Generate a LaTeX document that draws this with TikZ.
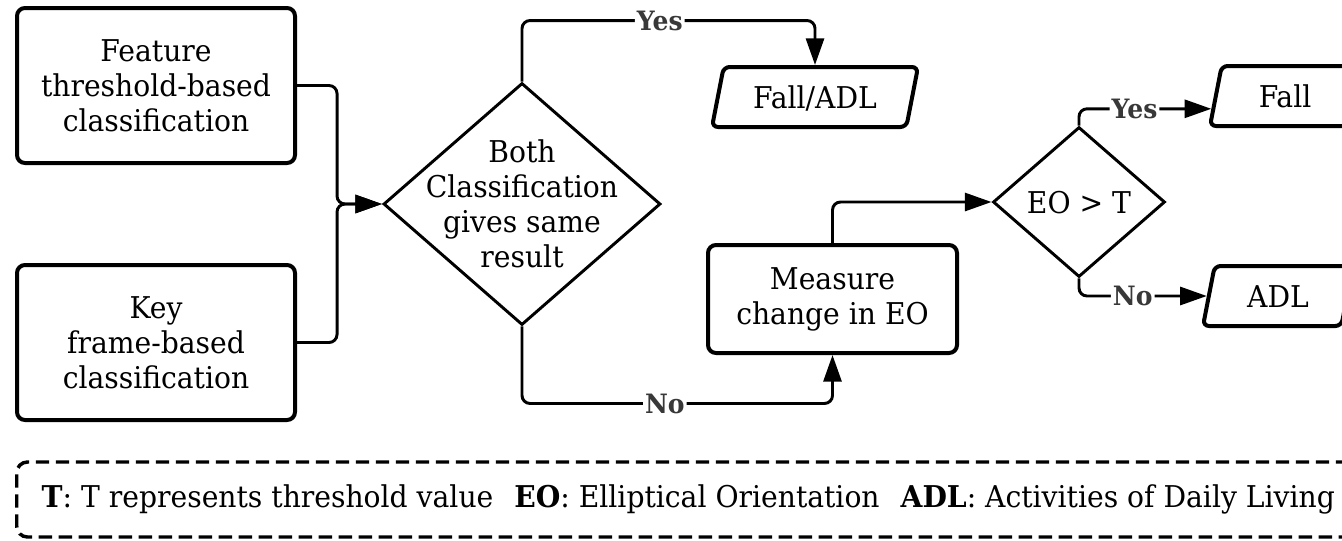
\documentclass[tikz,border=0pt]{standalone}
\usepackage{fontspec}
\setmainfont{DejaVu Serif}[FakeStretch=0.94]
\usetikzlibrary{shapes.geometric,arrows.meta,calc}
% centred multi-line text that takes no room, so the decision shapes keep their own size
\newcommand\flatlines[1]{\raisebox{-8.5pt}[0pt][0pt]{\makebox[0pt]{\begin{tabular}{@{}c@{}}#1\end{tabular}}}}
\begin{document}
\begin{tikzpicture}[x=0.75pt,y=-0.75pt,
  font=\fontsize{22.5}{26.25}\selectfont,
  procbox/.style={draw, line width=3pt, rounded corners=6pt, align=center, inner sep=0pt},
  decision/.style={draw, diamond, line width=2.2pt, inner sep=0pt},
  io/.style={draw, trapezium, trapezium left angle=79, trapezium right angle=101,
    trapezium stretches body, line width=3pt, rounded corners=4.5pt,
    inner xsep=0pt, inner ysep=11.25pt, text height=19.5pt, text depth=3pt},
  conn/.style={line width=2.2pt, rounded corners=6pt, -{Triangle[length=20pt,width=13.5pt]}},
  lbl/.style={fill=white, font=\bfseries\fontsize{20}{24}\selectfont, text=black!78, inner sep=1.5pt},
]
\useasboundingbox (0,0) rectangle (1342,540);
\clip (0,0) rectangle (1342,540);

% process boxes and decisions
\node[procbox, minimum width=208.5pt, minimum height=116.25pt] (feat) at (156,85.5)
  {Feature\\threshold-based\\classification};
\node[procbox, minimum width=208.5pt, minimum height=116.25pt] (key) at (156,342.5)
  {Key\\frame-based\\classification};
\node[decision, minimum width=207.75pt, minimum height=181.5pt] (both) at (522,204)
  {\flatlines{Both\\Classification\\gives same\\result}};
\node[io, minimum width=154.5pt] (either) at (815,97) {Fall/ADL};
\node[procbox, minimum width=186.75pt, minimum height=81pt] (measure) at (832.5,299)
  {Measure\\change in EO};
\node[decision, minimum width=129pt, minimum height=112.5pt] (eo) at (1079,202)
  {\flatlines{EO > T}};
\node[io, minimum width=112.5pt] (fall) at (1285,96) {Fall};
\node[io, minimum width=112.5pt] (adl) at (1278,296) {ADL};

% legend
\node[draw, dash pattern=on 10pt off 5pt, line width=2.6pt, rounded corners=8pt,
  anchor=west, minimum height=56.25pt, inner xsep=18.75pt] (legend) at (15,499.5)
  {\textbf{T}: T represents threshold value\hspace{0.7em}\textbf{EO}: Elliptical Orientation\hspace{0.7em}\textbf{ADL}: Activities of Daily Living};

% connectors
\coordinate (merge) at ($(both.west)+(-45,0)$);
\draw[conn] (feat.east) -| (merge) -- (both.west);
\draw[conn] (key.east) -| (merge) -- (both.west);
\draw[conn] (both.north) -- ++(0,-61) -| node[lbl,pos=0.235]{Yes} (either.north);
\draw[conn] (both.south) -- ++(0,77) -| node[lbl,pos=0.23]{No} (measure.south);
\draw[conn] (measure.north) |- (eo.west);
\draw[conn] (eo.north) |- node[lbl,pos=0.71]{Yes}
  ($(fall.bottom left corner)!0.3!(fall.top left corner)$);
\draw[conn] (eo.south) |- node[lbl,pos=0.71]{No} (adl.west);
\end{tikzpicture}
\end{document}
